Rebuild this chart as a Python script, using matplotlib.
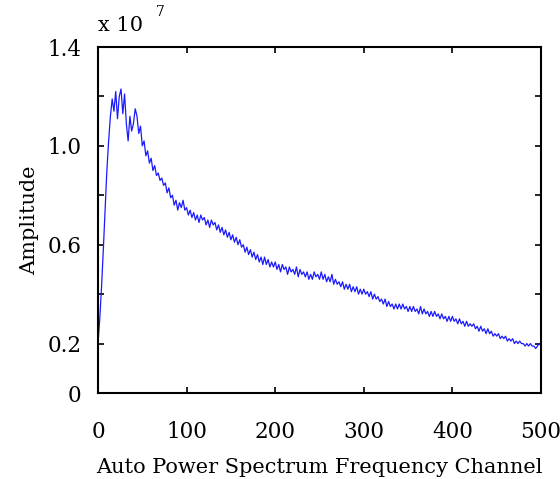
# Auto power spectrum plot (amplitude vs frequency channel)
import numpy as np
import matplotlib
matplotlib.use('Agg')
from matplotlib import pyplot as plt

# %% data (amplitude in units of 1e7, one value every 2 channels)
channel = np.arange(0, 500, 2)
amplitude = [
    0.20, 0.30, 0.43, 0.58, 0.74, 0.90, 1.02, 1.12, 1.19, 1.14,
    1.22, 1.11, 1.20, 1.23, 1.13, 1.21, 1.09, 1.02, 1.12, 1.06,
    1.09, 1.15, 1.12, 1.05, 1.08, 1.00, 1.02, 0.96, 0.98, 0.93,
    0.95, 0.90, 0.92, 0.88, 0.89, 0.86, 0.87, 0.84, 0.85, 0.81,
    0.83, 0.79, 0.80, 0.76, 0.78, 0.74, 0.77, 0.75, 0.78, 0.74,
    0.75, 0.72, 0.74, 0.71, 0.73, 0.70, 0.72, 0.69, 0.72, 0.70,
    0.71, 0.68, 0.70, 0.67, 0.70, 0.68, 0.69, 0.66, 0.68, 0.65,
    0.67, 0.64, 0.66, 0.63, 0.65, 0.62, 0.64, 0.61, 0.63, 0.60,
    0.62, 0.59, 0.60, 0.57, 0.59, 0.56, 0.58, 0.55, 0.57, 0.54,
    0.56, 0.53, 0.55, 0.52, 0.55, 0.52, 0.54, 0.51, 0.53, 0.51,
    0.53, 0.50, 0.52, 0.49, 0.52, 0.50, 0.51, 0.48, 0.51, 0.49,
    0.50, 0.48, 0.51, 0.47, 0.50, 0.48, 0.49, 0.47, 0.49, 0.46,
    0.48, 0.46, 0.49, 0.47, 0.48, 0.46, 0.49, 0.46, 0.48, 0.45,
    0.47, 0.45, 0.48, 0.44, 0.46, 0.44, 0.45, 0.43, 0.45, 0.42,
    0.44, 0.42, 0.44, 0.41, 0.43, 0.41, 0.43, 0.40, 0.42, 0.40,
    0.42, 0.40, 0.41, 0.39, 0.41, 0.38, 0.40, 0.38, 0.39, 0.37,
    0.38, 0.36, 0.38, 0.35, 0.37, 0.35, 0.36, 0.34, 0.36, 0.34,
    0.36, 0.34, 0.36, 0.34, 0.35, 0.33, 0.35, 0.33, 0.35, 0.33,
    0.34, 0.32, 0.35, 0.32, 0.34, 0.32, 0.33, 0.31, 0.33, 0.31,
    0.33, 0.31, 0.32, 0.30, 0.32, 0.30, 0.31, 0.29, 0.31, 0.29,
    0.31, 0.29, 0.30, 0.28, 0.30, 0.28, 0.29, 0.27, 0.29, 0.27,
    0.28, 0.27, 0.28, 0.26, 0.27, 0.25, 0.27, 0.25, 0.26, 0.24,
    0.26, 0.24, 0.25, 0.23, 0.24, 0.23, 0.24, 0.22, 0.23, 0.22,
    0.23, 0.21, 0.22, 0.21, 0.22, 0.20, 0.21, 0.20, 0.21, 0.20,
    0.20, 0.19, 0.20, 0.19, 0.20, 0.19, 0.19, 0.18, 0.19, 0.20,
]
x_ticks = [0, 100, 200, 300, 400, 500]
y_ticks = [0, 0.2, 0.4, 0.6, 0.8, 1.0, 1.2, 1.4]
y_tick_labels = ['0', '0.2', '', '0.6', '', '1.0', '', '1.4']

# %% plot
plt.rcParams['font.family'] = ['DejaVu Serif']
fig = plt.figure(figsize=(5.6, 4.79), dpi=100)
ax = fig.add_axes([98/560, 86/479, 443/560, 346/479])
ax.plot(channel, amplitude, color='#1a1aff', lw=0.9)

ax.set_xlim(0, 500)
ax.set_ylim(0, 1.4)
ax.set_xticks(x_ticks)
ax.set_yticks(y_ticks)
ax.set_yticklabels(y_tick_labels)
ax.tick_params(direction='in', top=True, right=True, length=4, width=1.2,
               labelsize=15.5)
ax.tick_params(axis='y', pad=12)
ax.tick_params(axis='x', pad=20)
for s in ax.spines.values():
    s.set_linewidth(1.5)

ax.set_xlabel('Auto Power Spectrum Frequency Channel', fontsize=15, labelpad=11)
ax.set_ylabel('Amplitude', fontsize=15, labelpad=6)
ax.text(0.0, 1.035, 'x 10', transform=ax.transAxes, fontsize=15, va='bottom')
ax.text(0.13, 1.08, '7', transform=ax.transAxes, fontsize=10, va='bottom')

fig.savefig('out.png', dpi=100)
